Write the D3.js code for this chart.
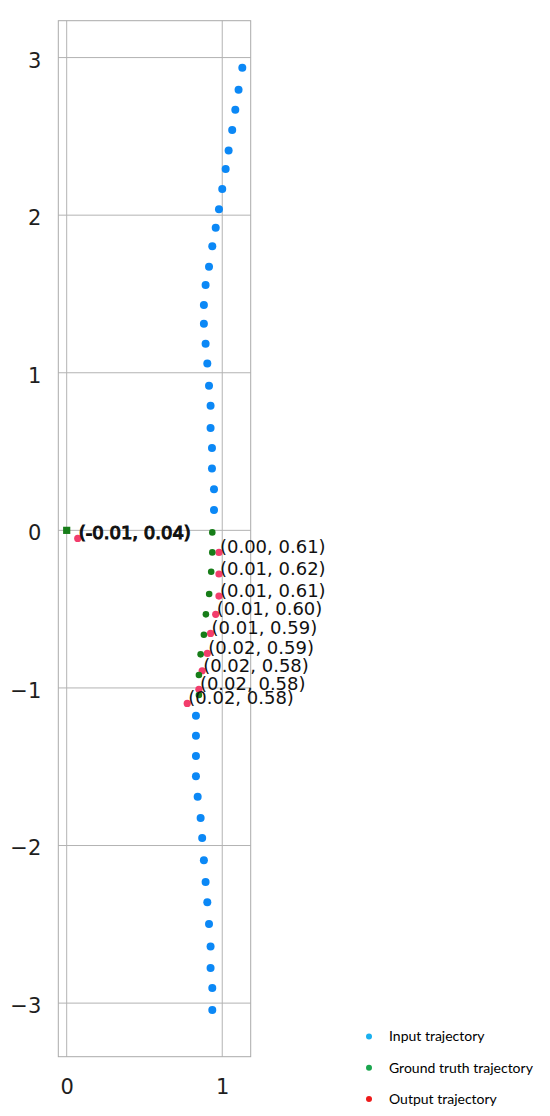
<!DOCTYPE html>
<html>
<head>
<meta charset="utf-8">
<script src="https://cdn.jsdelivr.net/npm/d3@7"></script>
<style>
  html, body { margin: 0; padding: 0; background: #fff; }
  .tick text { font-family: "DejaVu Sans", sans-serif; font-size: 21px; fill: #1e1e1e; }
  .label { font-family: "DejaVu Sans", sans-serif; font-size: 18px; fill: #111; }
  .legend text { font-family: Lato, "Open Sans", sans-serif; font-size: 14px; fill: #000; }
</style>
</head>
<body>
<svg id="chart" width="550" height="1116"></svg>
<script>
// input trajectory
const inputX = [1.129, 1.105, 1.084, 1.064, 1.041, 1.022, 1.000, 0.979, 0.958, 0.936, 0.915, 0.893,
  0.882, 0.882, 0.893, 0.904, 0.915, 0.925, 0.925, 0.934, 0.934, 0.947, 0.947,
  0.831, 0.831, 0.831, 0.831, 0.842, 0.861, 0.871, 0.882, 0.893, 0.904, 0.915, 0.925, 0.925, 0.936, 0.936];
const inputY = [2.935, 2.796, 2.669, 2.540, 2.411, 2.293, 2.166, 2.037, 1.920, 1.802, 1.673, 1.557,
  1.430, 1.311, 1.184, 1.058, 0.918, 0.791, 0.649, 0.522, 0.393, 0.260, 0.129,
  -1.176, -1.303, -1.432, -1.561, -1.690, -1.825, -1.952, -2.094, -2.232, -2.360, -2.498, -2.640, -2.777, -2.904, -3.044];

// ground truth trajectory (first point drawn as a square)
const truthX = [0, 0.936, 0.936, 0.929, 0.916, 0.895, 0.882, 0.861, 0.850, 0.850];
const truthY = [0, -0.013, -0.140, -0.263, -0.404, -0.533, -0.662, -0.787, -0.918, -1.045];

// output trajectory + annotations
const outputX = [0.071, 0.979, 0.979, 0.979, 0.958, 0.925, 0.904, 0.871, 0.850, 0.775];
const outputY = [-0.051, -0.140, -0.277, -0.417, -0.533, -0.654, -0.781, -0.891, -1.009, -1.098];
const outputLabels = ['(-0.01, 0.04)', '(0.00, 0.61)', '(0.01, 0.62)', '(0.01, 0.61)', '(0.01, 0.60)',
  '(0.01, 0.59)', '(0.02, 0.59)', '(0.02, 0.58)', '(0.02, 0.58)', '(0.02, 0.58)'];

const xTicks = [0, 1];
const yTicks = [-3, -2, -1, 0, 1, 2, 3];

const legendNames = ['Input trajectory', 'Ground truth trajectory', 'Output trajectory'];
const legendColors = ['#1ab0ef', '#1aa64e', '#ee1a1a'];

const margin = { left: 58.3, top: 20.7 };
const width = 192.4;
const height = 1036;

const svg = d3.select('#chart');
const g = svg.append('g').attr('transform', `translate(${margin.left},${margin.top})`);

const x = d3.scaleLinear().domain([-0.054, 1.183]).range([0, width]);
const y = d3.scaleLinear().domain([3.234, -3.34]).range([0, height]);

const fmt = d => d < 0 ? '\u2212' + Math.abs(d) : String(d);

// grid
g.append('g')
  .selectAll('line')
  .data(xTicks)
  .join('line')
  .attr('x1', d => x(d)).attr('x2', d => x(d))
  .attr('y1', 0).attr('y2', height)
  .attr('stroke', '#b3b3b3').attr('stroke-width', 1);

g.append('g')
  .selectAll('line')
  .data(yTicks)
  .join('line')
  .attr('x1', 0).attr('x2', width)
  .attr('y1', d => y(d)).attr('y2', d => y(d))
  .attr('stroke', '#b3b3b3').attr('stroke-width', 1);

g.append('rect')
  .attr('width', width).attr('height', height)
  .attr('fill', 'none').attr('stroke', '#aaa').attr('stroke-width', 1);

// axes (labels only)
const axisY = g.append('g')
  .call(d3.axisLeft(y).tickValues(yTicks).tickSize(0).tickPadding(17).tickFormat(fmt));
axisY.select('.domain').remove();
axisY.selectAll('text').attr('dy', '0.45em');

const axisX = g.append('g')
  .attr('transform', `translate(0,${height})`)
  .call(d3.axisBottom(x).tickValues(xTicks).tickSize(0).tickPadding(22).tickFormat(fmt));
axisX.select('.domain').remove();

// input points
g.append('g')
  .selectAll('circle')
  .data(inputX.map((v, i) => [v, inputY[i]]))
  .join('circle')
  .attr('cx', d => x(d[0]))
  .attr('cy', d => y(d[1]))
  .attr('r', 4)
  .attr('fill', '#0b88f6');

// output points
const output = outputX.map((v, i) => ({ x: v, y: outputY[i], label: outputLabels[i] }));
g.append('g')
  .selectAll('circle')
  .data(output)
  .join('circle')
  .attr('cx', d => x(d.x))
  .attr('cy', d => y(d.y))
  .attr('r', 3.6)
  .attr('fill', '#f23d6c');

// ground truth points
const truth = truthX.map((v, i) => [v, truthY[i]]);
g.append('g')
  .selectAll('path')
  .data(truth)
  .join('path')
  .attr('transform', d => `translate(${x(d[0])},${y(d[1])})`)
  .attr('d', (d, i) => d3.symbol(i === 0 ? d3.symbolSquare : d3.symbolCircle, i === 0 ? 52 : 34)())
  .attr('fill', '#177d19');

// annotations
g.append('g')
  .selectAll('text')
  .data(output)
  .join('text')
  .attr('class', 'label')
  .attr('x', d => x(d.x) + 1)
  .attr('y', d => y(d.y) + 1)
  .attr('stroke', (d, i) => i === 0 ? '#111' : 'none')
  .attr('stroke-width', 1.2)
  .text(d => d.label);

// legend
const legend = svg.append('g').attr('class', 'legend')
  .selectAll('g')
  .data(legendNames)
  .join('g')
  .attr('transform', (d, i) => `translate(369,${1036.5 + i * 31.3})`);

legend.append('circle')
  .attr('r', 3)
  .attr('fill', (d, i) => legendColors[i]);

legend.append('text')
  .attr('x', 20)
  .attr('dy', '0.35em')
  .text(d => d);
</script>
</body>
</html>
